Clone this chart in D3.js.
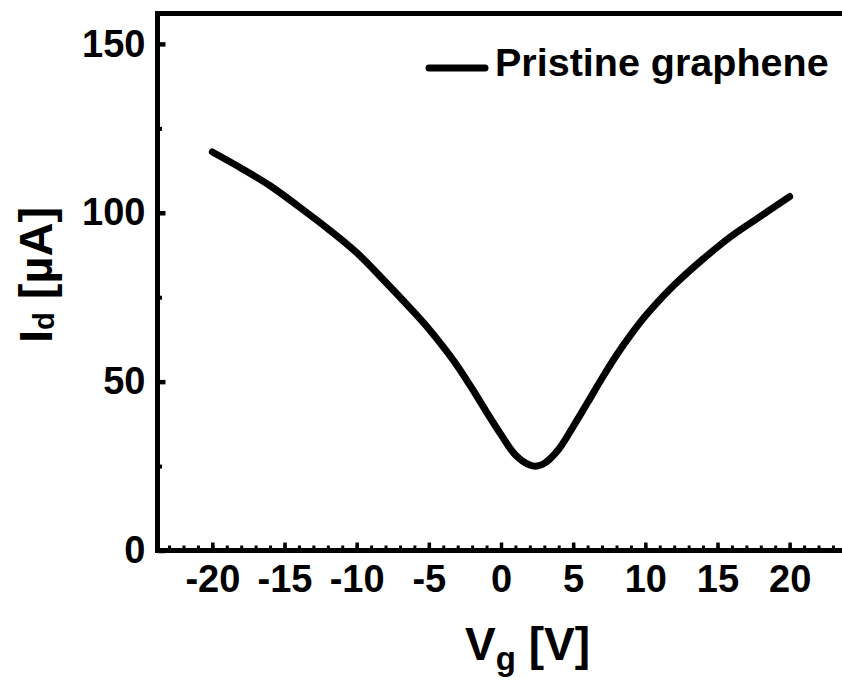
<html>
<head>
<style>
  body { margin:0; background:#fff; }
  text { font-family:"Liberation Sans", Arial, sans-serif; font-weight:bold; fill:#000; }
  .tick line { stroke:#000; }
  .curve { fill:none; stroke:#000; stroke-width:7; stroke-linejoin:round; stroke-linecap:round; }
</style>
</head>
<body>
<script src="https://cdn.jsdelivr.net/npm/d3@7"></script>
<script>
var width = 842, height = 682;

// gate voltage (V) and drain current (uA)
var vg = [-20, -18, -16, -14, -12, -10, -8, -6, -5, -4, -3, -2, -1, 0, 1, 2, 2.5, 3, 4, 5, 6, 7, 8, 9, 10, 11, 12, 14, 16, 18, 20];
var id = [118, 113.2, 108, 101.8, 95.3, 88.2, 79.5, 70.4, 65.6, 60.3, 54.5, 47.9, 41, 34.3, 28.3, 25.3, 25, 25.8, 30, 36.7, 43.8, 51, 57.8, 63.9, 69.4, 74.2, 78.6, 86.3, 93.2, 99, 104.8];

var xMajor = [-20, -15, -10, -5, 0, 5, 10, 15, 20];
var xMinor = d3.range(-23, 24, 1);
var yMajor = [0, 50, 100, 150];
var yMinor = [25, 75, 125];
var seriesName = "Pristine graphene";

var svg = d3.select("body").append("svg")
    .attr("width", width)
    .attr("height", height);

var x = d3.scaleLinear().domain([-23.8, 23.8]).range([157.5, 844.5]);
var y = d3.scaleLinear().domain([0, 159]).range([550.5, 13.5]);

// minor ticks first, majors on top
svg.append("g")
    .attr("transform", "translate(0," + y(0) + ")")
    .call(d3.axisBottom(x).tickValues(xMinor).tickSize(-5).tickFormat(""))
    .call(function(g){ g.select(".domain").remove(); g.selectAll("line").attr("stroke-width", 3); });

svg.append("g")
    .attr("transform", "translate(" + x(-23.8) + ",0)")
    .call(d3.axisLeft(y).tickValues(yMinor).tickSize(-4.5).tickFormat(""))
    .call(function(g){ g.select(".domain").remove(); g.selectAll("line").attr("stroke-width", 4); });

var xAxis = svg.append("g")
    .attr("transform", "translate(0," + y(0) + ")")
    .call(d3.axisBottom(x).tickValues(xMajor).tickSize(-8).tickPadding(14.5).tickFormat(function(d){ return String(d); }));
xAxis.select(".domain").remove();
xAxis.selectAll("line").attr("stroke-width", 3.5);
xAxis.selectAll("text").attr("font-size", 38).attr("font-family", null);

var yAxis = svg.append("g")
    .attr("transform", "translate(" + x(-23.8) + ",0)")
    .call(d3.axisLeft(y).tickValues(yMajor).tickSize(-8).tickPadding(12).tickFormat(function(d){ return String(d); }));
yAxis.select(".domain").remove();
yAxis.selectAll("line").attr("stroke-width", 4.5);
yAxis.selectAll("text").attr("font-size", 38).attr("font-family", null);

// frame
svg.append("rect")
    .attr("x", x(-23.8)).attr("y", y(159))
    .attr("width", x(23.8) - x(-23.8)).attr("height", y(0) - y(159))
    .attr("fill", "none").attr("stroke", "#000").attr("stroke-width", 5);

// curve
var pts = vg.map(function(v, i){ return [v, id[i]]; });
var line = d3.line()
    .x(function(d){ return x(d[0]); })
    .y(function(d){ return y(d[1]); })
    .curve(d3.curveCatmullRom.alpha(0.5));
svg.append("path").attr("class", "curve").datum(pts).attr("d", line);

// legend
svg.append("line")
    .attr("x1", 429).attr("x2", 485).attr("y1", 68).attr("y2", 68)
    .attr("stroke", "#000").attr("stroke-width", 7).attr("stroke-linecap", "round");
svg.append("text")
    .attr("x", 495).attr("y", 76)
    .attr("font-size", 39.5)
    .text(seriesName);

// axis titles
var xt = svg.append("text")
    .attr("x", 465).attr("y", 660)
    .attr("font-size", 46);
xt.append("tspan").text("V");
xt.append("tspan").attr("font-size", 33).attr("dy", 10).text("g");
xt.append("tspan").attr("dy", -10).text(" [V]");

var yt = svg.append("text")
    .attr("transform", "translate(52,343) rotate(-90)")
    .attr("font-size", 47);
yt.append("tspan").text("I");
yt.append("tspan").attr("font-size", 29).attr("dy", 2).text("d");
yt.append("tspan").attr("dy", -2).text(" [\u00b5A]");
</script>
</body>
</html>
